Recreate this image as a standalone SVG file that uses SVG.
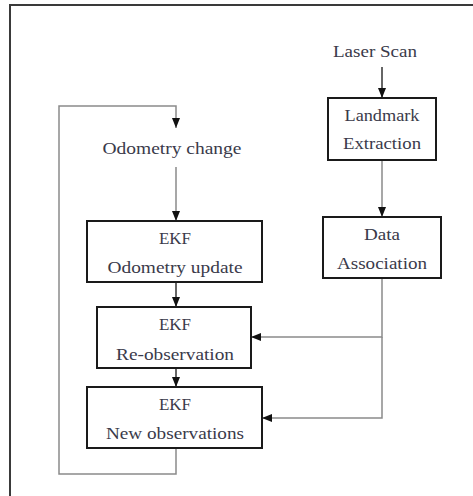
<svg xmlns="http://www.w3.org/2000/svg" width="473" height="496" viewBox="0 0 473 496">
<style>
.box{fill:#fff;stroke:#1a1a1a;stroke-width:2}
.t{font-family:"Liberation Serif",serif;font-size:16px;fill:#3a3a4a;text-anchor:middle}
.dk{fill:none;stroke:#333;stroke-width:1.5}
.gy{fill:none;stroke:#8a8a8a;stroke-width:1.5}
</style>
<defs>
<marker id="ah" markerUnits="userSpaceOnUse" markerWidth="10" markerHeight="10" viewBox="0 0 10 10" refX="10" refY="5" orient="auto">
<path d="M0,1 L10,5 L0,9 Z" fill="#111"/>
</marker>
</defs>
<rect x="10" y="5" width="480" height="500" fill="#fff" stroke="#3a3a3a" stroke-width="2"/>
<g id="connectors">
<path class="dk" d="M382,67 V98" marker-end="url(#ah)"/>
<path class="gy" d="M382,160 V217" marker-end="url(#ah)"/>
<path class="gy" d="M382,278 V337 H251" marker-end="url(#ah)"/>
<path class="gy" d="M382,337 V418 H262" marker-end="url(#ah)"/>
<path class="gy" d="M176,448 V474 H59 V106 H176 V128" marker-end="url(#ah)"/>
<path class="gy" d="M176,167 V221" marker-end="url(#ah)"/>
<path class="dk" d="M176,282 V307" marker-end="url(#ah)"/>
<path class="dk" d="M176,368 V387" marker-end="url(#ah)"/>
</g>
<g id="laser-scan">
<text class="t" x="375" y="57" textLength="84" lengthAdjust="spacingAndGlyphs">Laser Scan</text>
</g>
<g id="landmark-extraction">
<rect class="box" x="328" y="98" width="108" height="62"/>
<text class="t" x="382" y="121" textLength="75" lengthAdjust="spacingAndGlyphs">Landmark</text>
<text class="t" x="382" y="149" textLength="78" lengthAdjust="spacingAndGlyphs">Extraction</text>
</g>
<g id="data-association">
<rect class="box" x="323" y="217" width="118" height="61"/>
<text class="t" x="382" y="240" textLength="36" lengthAdjust="spacingAndGlyphs">Data</text>
<text class="t" x="382" y="269" textLength="90" lengthAdjust="spacingAndGlyphs">Association</text>
</g>
<g id="odometry-change">
<text class="t" x="172" y="154" textLength="139" lengthAdjust="spacingAndGlyphs">Odometry change</text>
</g>
<g id="ekf-odometry-update">
<rect class="box" x="87" y="221" width="175" height="61"/>
<text class="t" x="175" y="244" textLength="32" lengthAdjust="spacingAndGlyphs">EKF</text>
<text class="t" x="175" y="273" textLength="135" lengthAdjust="spacingAndGlyphs">Odometry update</text>
</g>
<g id="ekf-re-observation">
<rect class="box" x="97" y="307" width="154" height="61"/>
<text class="t" x="175" y="330" textLength="32" lengthAdjust="spacingAndGlyphs">EKF</text>
<text class="t" x="175" y="360" textLength="118" lengthAdjust="spacingAndGlyphs">Re-observation</text>
</g>
<g id="ekf-new-observations">
<rect class="box" x="87" y="387" width="175" height="61"/>
<text class="t" x="175" y="410" textLength="32" lengthAdjust="spacingAndGlyphs">EKF</text>
<text class="t" x="175" y="439" textLength="138" lengthAdjust="spacingAndGlyphs">New observations</text>
</g>
</svg>
